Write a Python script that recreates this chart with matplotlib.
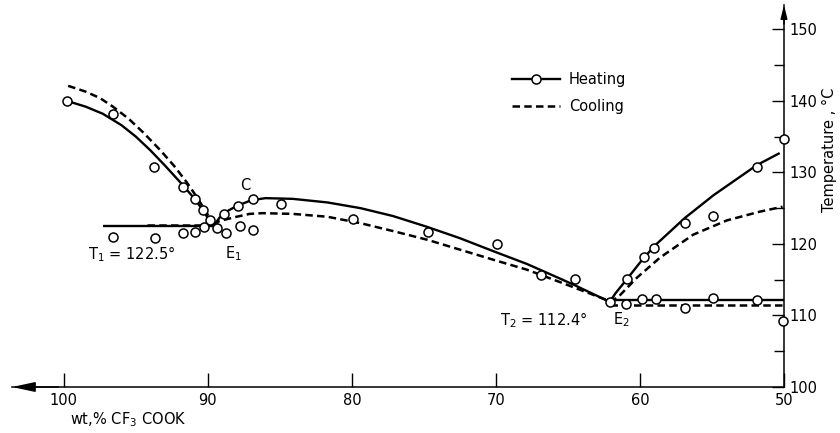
import numpy as np
import matplotlib
matplotlib.use('Agg')
import matplotlib.pyplot as plt
from matplotlib.lines import Line2D
from matplotlib.ticker import MultipleLocator

# measured points (heating runs)
pts_x = [99.8, 96.6, 93.75, 91.7, 90.9, 90.35, 89.86, 90.3, 90.9, 91.7, 93.7, 96.6,
         89.4, 88.75, 88.9, 87.9, 86.9, 87.8, 86.9, 84.9, 79.9, 74.7, 69.9, 66.9,
         64.5, 62.1, 61.0, 60.9, 59.7, 59.0, 59.85, 58.9, 56.9, 56.9, 54.9, 54.9,
         51.9, 51.9, 50.0, 50.1]
pts_y = [140.0, 138.2, 130.8, 128.0, 126.3, 124.8, 123.4, 122.4, 121.7, 121.5, 120.8, 121.0,
         122.2, 121.5, 124.2, 125.3, 126.3, 122.5, 122.0, 125.6, 123.5, 121.7, 120.0, 115.7,
         115.1, 111.9, 111.6, 115.1, 118.2, 119.4, 112.3, 112.3, 111.0, 122.9, 123.9, 112.4,
         130.8, 112.2, 134.7, 109.2]

# heating curves
heat1_x = [99.8, 98.5, 97.3, 96.0, 95.0, 94.0, 93.0, 92.0, 91.0, 90.3, 89.65]
heat1_y = [140.0, 139.2, 138.2, 136.6, 135.0, 133.1, 131.0, 128.8, 126.5, 124.6, 122.4]
heat2_x = [89.65, 89.0, 88.0, 87.0, 86.0, 84.1, 81.7, 79.4, 77.15, 74.8, 72.5, 70.2, 67.85, 65.6, 64.5, 62.1]
heat2_y = [122.4, 124.2, 125.3, 126.1, 126.4, 126.3, 125.8, 125.0, 123.9, 122.4, 120.8, 119.0, 117.2, 115.2, 114.2, 111.9]
heat3_x = [62.1, 61.7, 60.9, 59.8, 58.95, 56.9, 54.9, 51.9, 50.3]
heat3_y = [111.9, 113.1, 115.1, 117.9, 119.8, 123.6, 126.8, 131.0, 132.7]
heat_eut1_x = [97.3, 89.65]
heat_eut1_y = [122.5, 122.5]
heat_eut2_x = [62.1, 50.0]
heat_eut2_y = [112.2, 112.2]

# cooling curves
cool1_x = [99.7, 98.5, 97.5, 96.6, 95.5, 94.5, 93.3, 92.3, 91.5, 90.75, 90.1, 89.6]
cool1_y = [142.1, 141.3, 140.4, 139.2, 137.5, 135.6, 133.1, 130.8, 128.7, 126.5, 124.4, 122.6]
cool2_x = [89.6, 89.2, 88.0, 87.1, 86.2, 84.1, 81.7, 79.4, 77.15, 74.8, 72.5, 70.2, 67.85, 65.6, 62.1]
cool2_y = [122.6, 123.2, 123.8, 124.2, 124.3, 124.2, 123.8, 122.9, 121.8, 120.6, 119.2, 117.8, 116.4, 114.7, 112.0]
cool3_x = [62.1, 61.5, 60.2, 58.6, 56.3, 53.95, 51.7, 50.1]
cool3_y = [111.9, 112.6, 115.3, 118.1, 121.3, 123.3, 124.5, 125.2]
cool_eut1_x = [94.2, 89.65]
cool_eut1_y = [122.7, 122.7]
cool_eut2_x = [62.1, 50.0]
cool_eut2_y = [111.5, 111.5]

x_ticks = [100, 90, 80, 70, 60, 50]
y_ticks = [100, 110, 120, 130, 140, 150]

plt.rcParams['font.family'] = ['DejaVu Sans']
plt.rcParams['mathtext.default'] = 'regular'
FS = 10.5

fig = plt.figure(figsize=(8.4, 4.33), dpi=100)
W, H = 840, 433
ax = fig.add_axes([12 / W, 46 / H, 772 / W, 382 / H])
ax.set_xlim(103.6, 50)
ax.set_ylim(100, 153.4)

solid = dict(color='k', lw=1.7, solid_capstyle='butt')
dashed = dict(color='k', lw=1.8, linestyle=(0, (3, 1.7)))

for xs, ys in [(heat1_x, heat1_y), (heat2_x, heat2_y), (heat3_x, heat3_y),
               (heat_eut1_x, heat_eut1_y), (heat_eut2_x, heat_eut2_y)]:
    ax.plot(xs, ys, **solid)
for xs, ys in [(cool1_x, cool1_y), (cool2_x, cool2_y), (cool3_x, cool3_y),
               (cool_eut1_x, cool_eut1_y), (cool_eut2_x, cool_eut2_y)]:
    ax.plot(xs, ys, **dashed)

ax.plot(pts_x, pts_y, 'o', ms=6.5, mfc='white', mec='k', mew=1.1, zorder=4, clip_on=False)

# axes styling
for s in ['top', 'left']:
    ax.spines[s].set_visible(False)
ax.spines['bottom'].set_linewidth(1.1)
ax.spines['right'].set_linewidth(1.1)
ax.yaxis.tick_right()
ax.set_xticks(x_ticks)
ax.set_yticks(y_ticks)
ax.yaxis.set_minor_locator(MultipleLocator(5))
ax.tick_params(axis='x', direction='in', length=10, width=1, labelsize=FS, pad=4)
ax.tick_params(axis='y', which='major', direction='in', length=9, width=1, labelsize=FS, pad=4)
ax.tick_params(axis='y', which='minor', direction='in', length=7, width=1)

# arrows at axis ends
ax.annotate('', xy=(0, 0), xytext=(0.06, 0), xycoords='axes fraction',
            arrowprops=dict(arrowstyle='-|>,head_length=1.4,head_width=0.3',
                            color='k', lw=1.1, shrinkA=0, shrinkB=0))
ax.annotate('', xy=(1, 1.0), xytext=(1, 0.95), xycoords='axes fraction',
            arrowprops=dict(arrowstyle='-|>,head_length=0.8,head_width=0.2',
                            color='k', lw=1.1, shrinkA=0, shrinkB=0), annotation_clip=False)

# labels inside plot
ax.text(87.4, 128.1, 'C', fontsize=FS, ha='center', va='center')
ax.text(88.8, 118.6, 'E$_1$', fontsize=FS, ha='left', va='center')
ax.text(98.3, 118.6, 'T$_1$ = 122.5°', fontsize=FS, ha='left', va='center')
ax.text(69.7, 109.4, 'T$_2$ = 112.4°', fontsize=FS, ha='left', va='center')
ax.text(61.9, 109.4, 'E$_2$', fontsize=FS, ha='left', va='center')

fig.text(70 / W, 1 - 420 / H, 'wt,% CF$_3$ COOK', fontsize=FS, ha='left', va='center')
fig.text(829 / W, 1 - 150 / H, 'Temperature , °C', fontsize=FS, rotation=90,
         ha='center', va='center')

handles = [Line2D([0], [0], color='k', lw=1.7, marker='o', ms=6.5, mfc='white', mec='k', mew=1.1),
           Line2D([0], [0], **dashed)]
ax.legend(handles, ['Heating', 'Cooling'], loc='upper left',
          bbox_to_anchor=(512 / W, 1 - 72 / H), bbox_transform=fig.transFigure,
          frameon=False, fontsize=FS, handlelength=3.3, handletextpad=0.6,
          labelspacing=0.8, borderpad=0, borderaxespad=0)

fig.savefig('out.png', dpi=100)
